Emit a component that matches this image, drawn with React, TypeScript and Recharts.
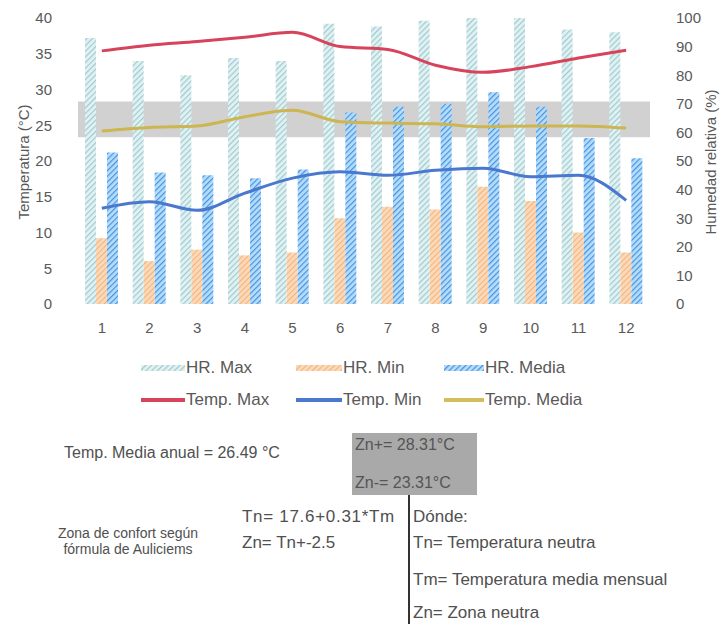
import React from 'react';
import {
  ComposedChart,
  Bar,
  Line,
  XAxis,
  YAxis,
  ReferenceArea,
} from 'recharts';

const months = ['1', '2', '3', '4', '5', '6', '7', '8', '9', '10', '11', '12'];
const hrMax = [93, 85, 80, 86, 85, 98, 97, 99, 100, 100, 96, 95];
const hrMin = [23, 15, 19, 17, 18, 30, 34, 33, 41, 36, 25, 18];
const hrMedia = [53, 46, 45, 44, 47, 67, 69, 70, 74, 69, 58, 51];
const tempMax = [35.4, 36.2, 36.7, 37.3, 38.0, 36.0, 35.6, 33.4, 32.4, 33.2, 34.4, 35.5];
const tempMin = [13.4, 14.3, 13.1, 15.5, 17.6, 18.5, 18.0, 18.7, 19.0, 17.8, 18.0, 14.5];
const tempMedia = [24.2, 24.7, 24.9, 26.2, 27.1, 25.5, 25.3, 25.2, 24.8, 24.9, 24.9, 24.6];
const tempTicks = [0, 5, 10, 15, 20, 25, 30, 35, 40];
const hrTicks = [0, 10, 20, 30, 40, 50, 60, 70, 80, 90, 100];
const zonaMin = 23.31;
const zonaMax = 28.31;

const FONT = '"Liberation Sans", Arial, sans-serif';
const GREY = '#595959';

const chartData = months.map((m, i) => ({
  mes: m,
  hrMax: hrMax[i],
  hrMin: hrMin[i],
  hrMedia: hrMedia[i],
  tMax: tempMax[i],
  tMin: tempMin[i],
  tMedia: tempMedia[i],
}));

const legendRows = [
  [
    { label: 'HR. Max', kind: 'bar', fill: 'url(#patMax)', left: 141, w: 44 },
    { label: 'HR. Min', kind: 'bar', fill: 'url(#patMin)', left: 296, w: 46 },
    { label: 'HR. Media', kind: 'bar', fill: 'url(#patMedia)', left: 444, w: 40 },
  ],
  [
    { label: 'Temp. Max', kind: 'line', fill: '#d8435c', left: 141, w: 44 },
    { label: 'Temp. Min', kind: 'line', fill: '#4a78cf', left: 296, w: 46 },
    { label: 'Temp. Media', kind: 'line', fill: '#d2bc5c', left: 444, w: 40 },
  ],
];

const txt = (extra: React.CSSProperties): React.CSSProperties => ({
  position: 'absolute',
  whiteSpace: 'nowrap',
  fontFamily: FONT,
  color: '#505050',
  lineHeight: 1,
  ...extra,
});

export default function App() {
  return (
    <div style={{ position: 'absolute', left: 0, top: 0, width: 725, height: 624, background: '#fff', fontFamily: FONT, overflow: 'hidden' }}>
      <ComposedChart
        width={725}
        height={340}
        data={chartData}
        margin={{ top: 18, right: 0, left: 0, bottom: 5 }}
        barGap={0}
        barSize={11}
      >
        <defs>
          <pattern id="patMax" width="4" height="4" patternUnits="userSpaceOnUse" patternTransform="rotate(45)">
            <rect width="4" height="4" fill="#e4f1f2" />
            <line x1="0" y1="0" x2="0" y2="4" stroke="#9accd0" strokeWidth="2.4" />
          </pattern>
          <pattern id="patMin" width="4" height="4" patternUnits="userSpaceOnUse" patternTransform="rotate(45)">
            <rect width="4" height="4" fill="#fbd9b8" />
            <line x1="0" y1="0" x2="0" y2="4" stroke="#f3b27a" strokeWidth="2" />
          </pattern>
          <pattern id="patMedia" width="4" height="4" patternUnits="userSpaceOnUse" patternTransform="rotate(45)">
            <rect width="4" height="4" fill="#b9dcf8" />
            <line x1="0" y1="0" x2="0" y2="4" stroke="#3f95e6" strokeWidth="2.4" />
          </pattern>
        </defs>
        <XAxis
          dataKey="mes"
          height={31}
          axisLine={false}
          tickLine={false}
          tickMargin={12}
          tick={{ fontSize: 15, fill: GREY, fontFamily: FONT }}
        />
        <YAxis
          yAxisId="left"
          width={78}
          domain={[0, 40]}
          ticks={tempTicks}
          axisLine={false}
          tickLine={false}
          tickMargin={20}
          tick={{ fontSize: 15, fill: GREY, fontFamily: FONT }}
        />
        <YAxis
          yAxisId="right"
          orientation="right"
          width={75}
          domain={[0, 100]}
          ticks={hrTicks}
          axisLine={false}
          tickLine={false}
          tickMargin={20}
          tick={{ fontSize: 15, fill: GREY, fontFamily: FONT, textAnchor: 'start' }}
        />
        <Bar yAxisId="right" dataKey="hrMax" name="HR. Max" fill="url(#patMax)" isAnimationActive={false} />
        <Bar yAxisId="right" dataKey="hrMin" name="HR. Min" fill="url(#patMin)" isAnimationActive={false} />
        <Bar yAxisId="right" dataKey="hrMedia" name="HR. Media" fill="url(#patMedia)" isAnimationActive={false} />
        <ReferenceArea
          yAxisId="left"
          y1={zonaMin}
          y2={zonaMax}
          fill="#8c8c8c"
          fillOpacity={0.4}
          stroke="none"
        />
        <Line yAxisId="left" type="monotone" dataKey="tMax" name="Temp. Max" stroke="#d8435c" strokeWidth={3} dot={false} isAnimationActive={false} />
        <Line yAxisId="left" type="monotone" dataKey="tMin" name="Temp. Min" stroke="#4a78cf" strokeWidth={3} dot={false} isAnimationActive={false} />
        <Line yAxisId="left" type="monotone" dataKey="tMedia" name="Temp. Media" stroke="#cdb551" strokeWidth={3} dot={false} isAnimationActive={false} />
      </ComposedChart>

      {/* axis titles */}
      <div style={txt({ left: 23, top: 162, fontSize: 15, color: GREY, transform: 'translate(-50%, -50%) rotate(-90deg)' })}>
        Temperatura (°C)
      </div>
      <div style={txt({ left: 710, top: 162, fontSize: 15, color: GREY, transform: 'translate(-50%, -50%) rotate(-90deg)' })}>
        Humedad relativa (%)
      </div>

      {/* legend */}
      {legendRows.map((row, r) =>
        row.map((it) => (
          <div
            key={it.label}
            style={{ position: 'absolute', left: it.left, top: r === 0 ? 358 : 390, height: 20, display: 'flex', alignItems: 'center' }}
          >
            <svg width={it.w} height={20}>
              {it.kind === 'bar' ? (
                <rect x={0} y={7} width={it.w} height={6} fill={it.fill} />
              ) : (
                <rect x={0} y={8} width={it.w} height={4} fill={it.fill} />
              )}
            </svg>
            <span style={{ fontSize: 17, color: GREY, marginLeft: 1 }}>{it.label}</span>
          </div>
        ))
      )}

      {/* notes */}
      <div style={txt({ left: 64, top: 445, fontSize: 16 })}>Temp. Media anual = 26.49 °C</div>
      <div style={{ position: 'absolute', left: 352, top: 433, width: 125, height: 62, background: '#a9a9a9' }} />
      <div style={txt({ left: 355, top: 437, fontSize: 16, color: '#555' })}>Zn+= 28.31°C</div>
      <div style={txt({ left: 355, top: 475, fontSize: 16, color: '#555' })}>Zn-= 23.31°C</div>
      <div style={{ position: 'absolute', left: 408, top: 495, width: 2, height: 129, background: '#333' }} />
      <div style={txt({ left: 242, top: 508, fontSize: 17, letterSpacing: 0.7 })}>Tn= 17.6+0.31*Tm</div>
      <div style={txt({ left: 413, top: 508, fontSize: 17 })}>Dónde:</div>
      <div style={txt({ left: 128, top: 525, fontSize: 14, textAlign: 'center', transform: 'translateX(-50%)', lineHeight: '16px' })}>
        Zona de confort según
        <br />
        fórmula de Auliciems
      </div>
      <div style={txt({ left: 242, top: 534, fontSize: 17 })}>Zn= Tn+-2.5</div>
      <div style={txt({ left: 413, top: 534, fontSize: 17 })}>Tn= Temperatura neutra</div>
      <div style={txt({ left: 413, top: 571, fontSize: 17 })}>Tm= Temperatura media mensual</div>
      <div style={txt({ left: 413, top: 604, fontSize: 17 })}>Zn= Zona neutra</div>
    </div>
  );
}
